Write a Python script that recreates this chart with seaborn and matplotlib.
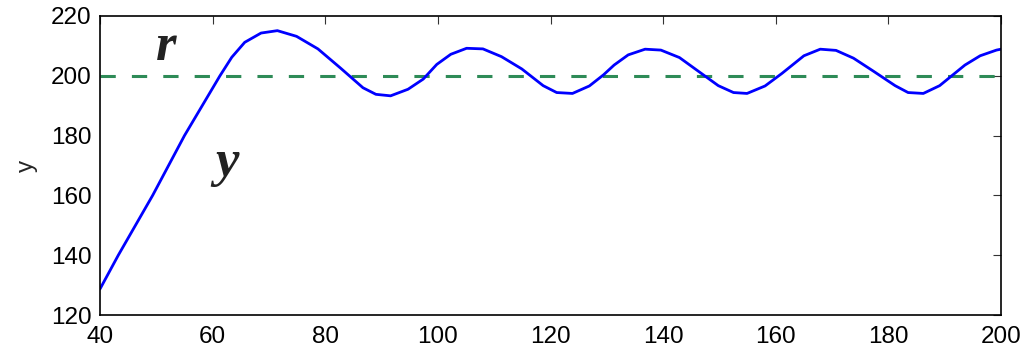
import numpy as np
import pandas as pd
import seaborn as sns
import matplotlib
matplotlib.use("Agg")
import matplotlib.pyplot as plt

# Output y(t)
t_vals = [40, 43.25, 49.35, 55.0, 61.3, 63.4, 65.7, 68.6, 71.5, 74.9, 78.7, 82.7,
          86.7, 89.0, 91.6, 94.7, 97.4, 99.8, 102.3, 105.1, 108.0, 111.3, 114.9,
          118.7, 121.1, 123.9, 126.9, 129.4, 131.3, 133.8, 136.8, 139.6, 142.9,
          146.2, 149.8, 152.5, 154.9, 158.1, 161.1, 165.0, 167.9, 170.7, 173.8,
          177.3, 181.2, 183.5, 186.2, 189.1, 193.6, 196.3, 199.2, 200]
y_vals = [128.7, 140, 160, 180, 200, 206.2, 211.2, 214.3, 215.1, 213.2, 209.0, 202.6,
          196.0, 193.8, 193.3, 195.5, 198.9, 203.8, 207.2, 209.2, 209.0, 206.4, 202.3,
          196.7, 194.4, 194.1, 196.6, 200.3, 203.6, 207.0, 208.9, 208.6, 206.1,
          201.6, 196.7, 194.4, 194.1, 196.6, 200.8, 206.7, 208.9, 208.5, 205.9,
          201.6, 196.7, 194.4, 194.1, 196.7, 203.6, 206.7, 208.6, 208.9]

# Reference r
r_t = [40, 200]
r_vals = [200, 200]

x_ticks = [40, 60, 80, 100, 120, 140, 160, 180, 200]
y_ticks = [120, 140, 160, 180, 200, 220]

sns.set_style("white")
plt.rcParams["font.family"] = ["Liberation Sans", "DejaVu Sans"]
plt.rcParams["lines.scale_dashes"] = False

fig = plt.figure(figsize=(10.27, 3.52), dpi=100)
ax = fig.add_axes([100 / 1027, 1 - 315 / 352, 901 / 1027, 299 / 352])

df = pd.DataFrame({"t": t_vals, "y": y_vals})
ref = pd.DataFrame({"t": r_t, "r": r_vals})

sns.lineplot(data=ref, x="t", y="r", ax=ax, color="#2e8b57", linewidth=2.2,
             linestyle=(0, (11, 11.6)))
sns.lineplot(data=df, x="t", y="y", ax=ax, color="#0000ff", linewidth=2.0)

ax.set_xlim(40, 200)
ax.set_ylim(120, 220)
ax.set_xticks(x_ticks)
ax.set_yticks(y_ticks)
ax.tick_params(direction="in", top=True, right=True, length=5.8, width=0.8,
               color="#333333", labelsize=17.5, labelcolor="black")
ax.tick_params(axis="x", pad=8)
ax.tick_params(axis="y", pad=6)
for s in ax.spines.values():
    s.set_linewidth(1.2)
    s.set_color("black")

ax.set_xlabel("")
ax.set_ylabel("y", fontsize=17.5)
ax.yaxis.set_label_coords(-0.069, 0.5)

ax.text(51.7, 205.3, "r", fontsize=38, family="Liberation Serif", style="italic",
        weight="bold", ha="center", va="baseline", color="#222222")
ax.text(62.6, 166.5, "y", fontsize=38, family="Liberation Serif", style="italic",
        weight="bold", ha="center", va="baseline", color="#222222")

fig.savefig("out.png", dpi=100)
